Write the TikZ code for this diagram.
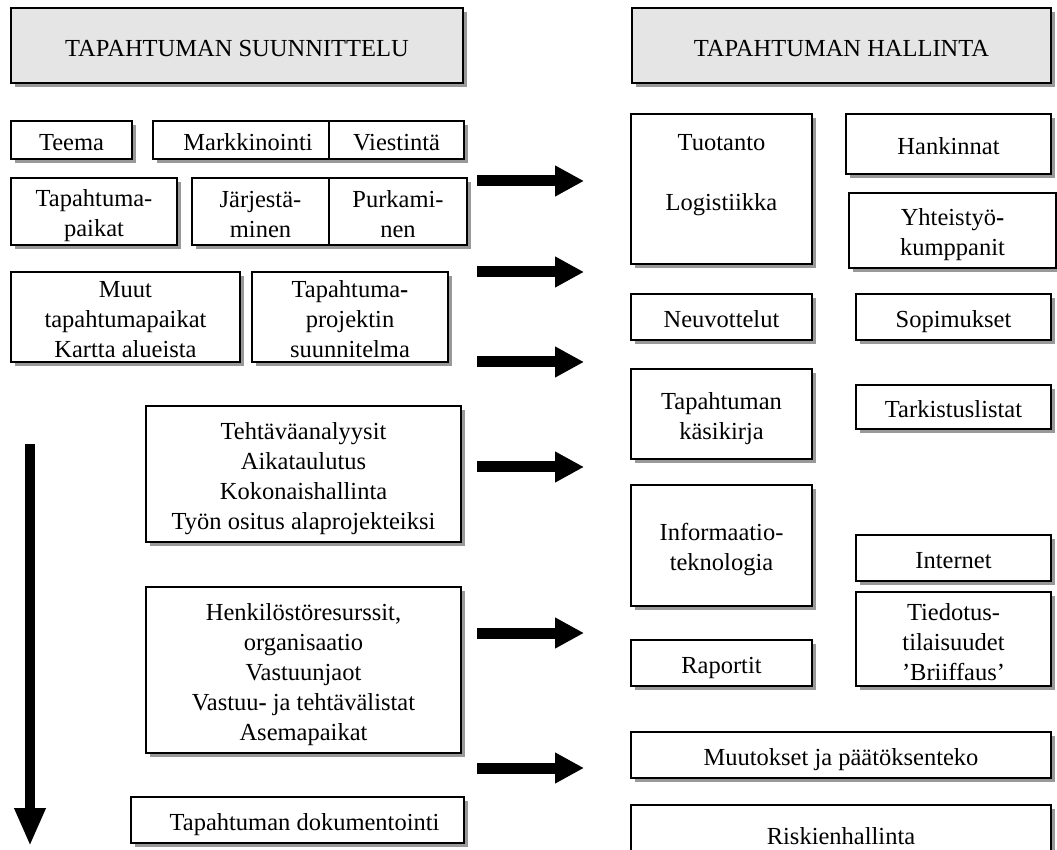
\documentclass[tikz,border=0pt]{standalone}
\usepackage{fontspec}
\setmainfont{Liberation Serif}
\usepackage{tikz}
\usetikzlibrary{
    arrows.meta,
    shadows
}
\newcommand{\laatikkotuki}{\rule[-1.6pt]{0pt}{12pt}}
\tikzstyle{laatikko} = [draw, line width=0.8pt, fill=white, inner sep=0pt, align=center,
    font=\fontsize{9.8pt}{12pt}\selectfont,
    execute at begin node=\laatikkotuki, execute at end node=\laatikkotuki,
    drop shadow={shadow xshift=1.6pt, shadow yshift=-1.6pt, fill=black!40, opacity=1}]
\tikzstyle{otsikko} = [laatikko, fill=gray!20]
\tikzstyle{nuoli} = [-{Triangle[length=11.6pt, width=11.6pt]}, line width=4.4pt]
\tikzstyle{aikanuoli} = [-{Triangle[length=15.2pt, width=11.6pt]}, line width=4pt]
\tikzset{koko/.style 2 args={minimum width=#1*0.4pt, minimum height=#2*0.4pt}}

\begin{document}
\begin{tikzpicture}[x=0.4pt, y=-0.4pt]
    \useasboundingbox (0,0) rectangle (1057,850);
    \node[otsikko, koko={452}{75}] (suunnittelu) at (237,45.5) {TAPAHTUMAN SUUNNITTELU};
    \node[otsikko, koko={419}{75}] (hallinta) at (841.5,45.5) {TAPAHTUMAN HALLINTA};

    \node[laatikko, koko={121}{38}] (teema) at (71.5,140) {Teema};
    \node[laatikko, koko={176}{38}] (markkinointi) at (241,140) {\hspace*{5.6pt}Markkinointi};
    \node[laatikko, koko={135}{38}] (viestinta) at (396.5,140) {Viestintä};
    \node[laatikko, koko={166}{67}] (paikat) at (94,211.5) {\laatikkotuki Tapahtuma-\\paikat};
    \node[laatikko, koko={137}{67}] (jarjestaminen) at (260.5,211.5) {\laatikkotuki Järjestä-\\minen};
    \node[laatikko, koko={138}{67}] (purkaminen) at (398,211.5) {\laatikkotuki Purkami-\\nen};
    \node[laatikko, koko={229}{90}] (muut) at (125.5,317) {\laatikkotuki Muut\\tapahtumapaikat\\Kartta alueista};
    \node[laatikko, koko={196}{90}] (suunnitelma) at (350,317) {\laatikkotuki Tapahtuma{\bfseries -}\\projektin\\suunnitelma};
    \node[laatikko, koko={315}{136}] (analyysit) at (303.5,474) {\laatikkotuki Tehtäväanalyysit\\Aikataulutus\\Kokonaishallinta\\Työn ositus alaprojekteiksi};
    \node[laatikko, koko={315}{166}] (henkilosto) at (303.5,670) {\laatikkotuki Henkilöstöresurssit,\\organisaatio\\Vastuunjaot\\Vastuu{\bfseries -} ja tehtävälistat\\Asemapaikat};
    \node[laatikko, koko={333}{46}] (dokumentointi) at (297.5,820) {\hspace*{5.6pt}Tapahtuman dokumentointi};

    \node[laatikko, koko={181}{150}] (tuotanto) at (721.5,189) {\laatikkotuki Tuotanto\\[12pt]Logistiikka\\[3.2pt]\mbox{}};
    \node[laatikko, koko={205}{60}] (hankinnat) at (948.5,144) {Hankinnat};
    \node[laatikko, koko={207}{75}] (yhteistyo) at (952.5,230.5) {\laatikkotuki Yhteistyö{\bfseries -}\\kumppanit};
    \node[laatikko, koko={181}{46}] (neuvottelut) at (721.5,317) {Neuvottelut};
    \node[laatikko, koko={195}{46}] (sopimukset) at (953.5,317) {Sopimukset};
    \node[laatikko, koko={181}{90}] (kasikirja) at (721.5,414) {\laatikkotuki Tapahtuman\\käsikirja};
    \node[laatikko, koko={195}{44}] (tarkistus) at (953.5,407) {Tarkistuslistat};
    \node[laatikko, koko={181}{121}] (informaatio) at (721.5,545.5) {\laatikkotuki Informaatio-\\teknologia};
    \node[laatikko, koko={195}{46}] (internet) at (953.5,558) {Internet};
    \node[laatikko, koko={195}{94}] (tiedotus) at (953.5,639) {\laatikkotuki Tiedotus-\\tilaisuudet\\’Briiffaus’};
    \node[laatikko, koko={181}{46}] (raportit) at (721.5,663) {Raportit};
    \node[laatikko, koko={420}{46}] (muutokset) at (841,755) {Muutokset ja päätöksenteko};
    \node[laatikko, koko={420}{57}] (riskit) at (841,833.5) {Riskienhallinta};

    \coordinate (alku1) at (477,181);
    \coordinate (loppu1) at (584,181);
    \coordinate (alku2) at (477,272);
    \coordinate (loppu2) at (584,272);
    \coordinate (alku3) at (477,362);
    \coordinate (loppu3) at (584,362);
    \coordinate (alku4) at (477,467);
    \coordinate (loppu4) at (584,467);
    \coordinate (alku5) at (477,633);
    \coordinate (loppu5) at (584,633);
    \coordinate (alku6) at (477,768);
    \coordinate (loppu6) at (584,768);
    \draw[nuoli] (alku1) -- (loppu1);
    \draw[nuoli] (alku2) -- (loppu2);
    \draw[nuoli] (alku3) -- (loppu3);
    \draw[nuoli] (alku4) -- (loppu4);
    \draw[nuoli] (alku5) -- (loppu5);
    \draw[nuoli] (alku6) -- (loppu6);

    \coordinate (aika1) at (30,444);
    \coordinate (aika2) at (30,846);
    \draw[aikanuoli] (aika1) -- (aika2);
\end{tikzpicture}
\end{document}
